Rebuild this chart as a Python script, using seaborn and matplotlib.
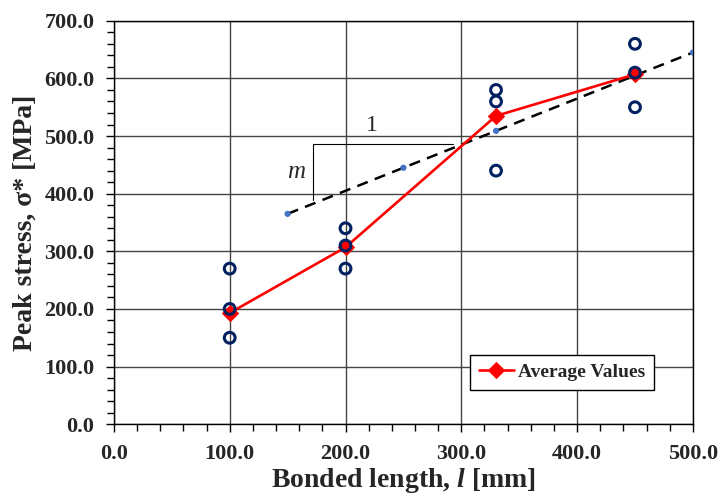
import matplotlib
matplotlib.use("Agg")
import matplotlib.pyplot as plt
import pandas as pd
import seaborn as sns
from matplotlib.ticker import MultipleLocator, FormatStrFormatter

# 개별 시험 결과
test_length = [100, 100, 100, 200, 200, 200, 330, 330, 330, 450, 450, 450]
test_stress = [270, 200, 150, 340, 310, 270, 580, 560, 440, 660, 610, 550]

# 평균값
avg_length = [100, 200, 330, 450]
avg_stress = [193, 307, 535, 607]

# 선형 추세선 위의 점
fit_length = [150, 250, 330, 500]
fit_stress = [365, 445, 509, 645]

# 기울기 표시 삼각형
slope_x = [172, 172, 293]
slope_y = [389, 487, 487]

sns.set_style("white")
plt.rcParams["font.family"] = ["Liberation Serif", "DejaVu Serif"]
plt.rcParams["mathtext.fontset"] = "custom"
plt.rcParams["mathtext.it"] = "Liberation Serif:italic:bold"

tests = pd.DataFrame({"length": test_length, "stress": test_stress})
avg = pd.DataFrame({"length": avg_length, "stress": avg_stress})
fit = pd.DataFrame({"length": fit_length, "stress": fit_stress})

fig = plt.figure(figsize=(7.21, 4.95), dpi=100)
ax = fig.add_axes([0.158, 0.143, 0.803, 0.815])

ax.plot(fit["length"], fit["stress"], color="black", linestyle=(0, (4.5, 3)),
        linewidth=1.8, zorder=2)
sns.scatterplot(data=fit, x="length", y="stress", color="#4472C4", s=20,
                edgecolor="none", ax=ax, zorder=3)
ax.plot(slope_x, slope_y, color="black", linewidth=0.8, zorder=2)

sns.lineplot(data=avg, x="length", y="stress", color="red", linewidth=1.9,
             marker="D", markersize=8, markeredgecolor="red",
             label="Average Values", ax=ax, zorder=4)
sns.scatterplot(data=tests, x="length", y="stress", marker="o", s=60,
                facecolor="none", edgecolor="#002060", linewidth=2.2,
                ax=ax, zorder=5)

ax.text(223, 518, "1", fontsize=17, ha="center", va="center")
ax.text(157, 438, "m", fontsize=18, fontstyle="italic", ha="center", va="center")

ax.set_xlim(0, 500)
ax.set_ylim(0, 700)
ax.xaxis.set_major_locator(MultipleLocator(100))
ax.xaxis.set_minor_locator(MultipleLocator(20))
ax.yaxis.set_major_locator(MultipleLocator(100))
ax.yaxis.set_minor_locator(MultipleLocator(20))
ax.xaxis.set_major_formatter(FormatStrFormatter("%.1f"))
ax.yaxis.set_major_formatter(FormatStrFormatter("%.1f"))
ax.tick_params(which="both", direction="out", color="black", width=1)
ax.tick_params(which="major", length=6, labelsize=16, pad=8)
ax.tick_params(which="minor", length=5)
ax.tick_params(axis="both", bottom=True, left=True, which="both")
for lbl in ax.get_xticklabels() + ax.get_yticklabels():
    lbl.set_fontweight("bold")

ax.grid(True, which="major", color="#444444", linewidth=1)
for s in ax.spines.values():
    s.set_color("black")
    s.set_linewidth(1)

ax.set_xlabel("Bonded length, $\\mathit{l}$ [mm]", fontsize=20, fontweight="bold", labelpad=2)
ax.set_ylabel("Peak stress, σ* [MPa]", fontsize=20, fontweight="bold", labelpad=5)

leg = ax.legend(loc="center", bbox_to_anchor=(0.774, 0.129), frameon=True,
                fancybox=False, framealpha=1, edgecolor="black",
                prop={"weight": "bold", "size": 14}, handlelength=1.8,
                borderpad=0.45, handletextpad=0.2)
leg.get_frame().set_linewidth(1)

fig.savefig("out.png", dpi=100)
